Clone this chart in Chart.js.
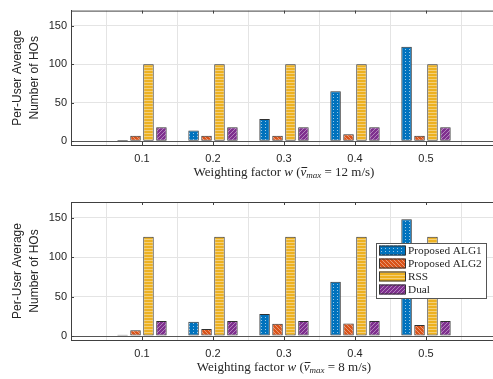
<!DOCTYPE html>
<html>
<head>
<meta charset="utf-8">
<script src="https://cdn.jsdelivr.net/npm/chart.js@4.4.0/dist/chart.umd.min.js"></script>
<style>
html, body { margin: 0; padding: 0; background: #fff; overflow: hidden; width: 493px; height: 379px; }
canvas { position: absolute; left: 0; }
#chartTop { top: 0; }
#chartBottom { top: 190px; }
</style>
</head>
<body>
<canvas id="chartTop" width="505" height="190"></canvas>
<canvas id="chartBottom" width="505" height="189"></canvas>
<script>
// x categories (empty ends = 0 and 0.6, only there to pad the axis)
var xLabels = ['', '0.1', '0.2', '0.3', '0.4', '0.5', ''];
var seriesNames = ['Proposed ALG1', 'Proposed ALG2', 'RSS', 'Dual'];
var yTicks = [0, 50, 100, 150];

// v_max = 12 m/s
var alg1Fast = [1.5, 14, 29, 65, 123];
var alg2Fast = [7, 7, 7, 9, 7];
var rssFast = [100, 100, 100, 100, 100];
var dualFast = [18, 18, 18, 18, 18];

// v_max = 8 m/s
var alg1Slow = [1.5, 18, 28, 69, 148];
var alg2Slow = [7.5, 9, 15.5, 16, 14];
var rssSlow = [126, 126, 126, 126, 126];
var dualSlow = [19, 19, 19, 19, 19];

var colors = ['#0072BD', '#D95319', '#EDB120', '#7E2F8E'];
var textColor = '#262626';

function makePattern(bg, kind) {
    var c = document.createElement('canvas');
    var w = 4, h = 4;
    if (kind == 'dots') { w = 4; h = 3; }
    if (kind == 'hline') { w = 4; h = 3; }
    c.width = w;
    c.height = h;
    var g = c.getContext('2d');
    g.fillStyle = bg;
    g.fillRect(0, 0, w, h);
    if (kind == 'dots') {
        g.fillStyle = 'rgba(255,255,255,0.6)';
        g.fillRect(1, 1, 1, 1);
    } else if (kind == 'back') {
        g.fillStyle = 'rgba(255,255,255,0.4)';
        for (var i = 0; i < 4; i++) g.fillRect(i, i, 1, 1);
    } else if (kind == 'hline') {
        g.fillStyle = 'rgba(255,255,255,0.4)';
        g.fillRect(0, 1, w, 1);
    } else {
        g.fillStyle = 'rgba(255,255,255,0.4)';
        for (var j = 0; j < 4; j++) g.fillRect(3 - j, j, 1, 1);
    }
    return document.createElement('canvas').getContext('2d').createPattern(c, 'repeat');
}

var patterns = [
    makePattern(colors[0], 'dots'),
    makePattern(colors[1], 'back'),
    makePattern(colors[2], 'hline'),
    makePattern(colors[3], 'fwd')
];

function pad(arr) {
    return [null].concat(arr).concat([null]);
}

var titlePlugin = {
    id: 'titles',
    afterDraw: function (chart, args, opts) {
        var ctx = chart.ctx;
        var a = chart.chartArea;
        ctx.save();
        // top border of the axes box
        ctx.strokeStyle = '#404040';
        ctx.lineWidth = 1;
        ctx.beginPath();
        ctx.moveTo(a.left, a.top + 0.5);
        ctx.lineTo(a.right, a.top + 0.5);
        ctx.stroke();
        // inward tick marks
        chart.scales.x.ticks.forEach(function (t, i) {
            var px = Math.round(chart.scales.x.getPixelForTick(i)) + 0.5;
            ctx.beginPath();
            ctx.moveTo(px, a.bottom);
            ctx.lineTo(px, a.bottom - 3);
            ctx.moveTo(px, a.top);
            ctx.lineTo(px, a.top + 3);
            ctx.stroke();
        });
        yTicks.forEach(function (v) {
            var py = Math.round(chart.scales.y.getPixelForValue(v)) + 0.5;
            ctx.beginPath();
            ctx.moveTo(a.left, py);
            ctx.lineTo(a.left + 3, py);
            ctx.stroke();
        });

        // y title, two lines
        ctx.fillStyle = textColor;
        ctx.font = '12px "Liberation Sans", Arial, sans-serif';
        ctx.textAlign = 'center';
        ctx.textBaseline = 'middle';
        var cy = (a.top + a.bottom) / 2;
        ctx.save();
        ctx.translate(18, cy);
        ctx.rotate(-Math.PI / 2);
        ctx.fillText('Per-User Average', 0, 0);
        ctx.restore();
        ctx.save();
        ctx.translate(35, cy);
        ctx.rotate(-Math.PI / 2);
        ctx.fillText('Number of HOs', 0, 0);
        ctx.restore();

        // x title with math parts
        var serif = '"Liberation Serif", "Times New Roman", serif';
        var parts = [
            { t: 'Weighting factor ', f: '13px ' + serif },
            { t: 'w', f: 'italic 13px ' + serif },
            { t: ' (', f: '13px ' + serif },
            { t: 'v', f: 'italic 13px ' + serif, bar: true },
            { t: 'max', f: 'italic 9px ' + serif, sub: true },
            { t: ' = ' + opts.speed + ' m/s)', f: '13px ' + serif }
        ];
        var total = 0;
        parts.forEach(function (p) {
            ctx.font = p.f;
            p.w = ctx.measureText(p.t).width;
            total += p.w;
        });
        var x = (a.left + a.right) / 2 - total / 2;
        var y = opts.titleY;
        ctx.textAlign = 'left';
        parts.forEach(function (p) {
            ctx.font = p.f;
            ctx.fillText(p.t, x, p.sub ? y + 3 : y);
            if (p.bar) {
                ctx.beginPath();
                ctx.strokeStyle = textColor;
                ctx.moveTo(x + 1, y - 5.5);
                ctx.lineTo(x + p.w + 1, y - 5.5);
                ctx.stroke();
            }
            x += p.w;
        });

        // legend box
        if (opts.legend) {
            var L = opts.legend;
            ctx.fillStyle = '#fff';
            ctx.fillRect(L.x, L.y, L.w, L.h);
            ctx.strokeStyle = '#555';
            ctx.strokeRect(L.x + 0.5, L.y + 0.5, L.w, L.h);
            ctx.font = '11.3px ' + serif;
            ctx.textBaseline = 'middle';
            seriesNames.forEach(function (name, i) {
                var ey = L.y + 7.5 + i * 13;
                ctx.fillStyle = patterns[i];
                ctx.fillRect(L.x + 3, ey - 5, 26, 10);
                ctx.strokeStyle = '#333';
                ctx.strokeRect(L.x + 3.5, ey - 4.5, 26, 9);
                ctx.fillStyle = textColor;
                ctx.fillText(name, L.x + 32, ey + 0.5);
            });
        }
        ctx.restore();
    }
};

function makeChart(id, series, opts) {
    var datasets = series.map(function (vals, i) {
        return {
            label: seriesNames[i],
            data: pad(vals),
            backgroundColor: patterns[i],
            borderColor: '#303030',
            borderWidth: 1,
            borderSkipped: false,
            categoryPercentage: 0.73,
            barPercentage: 0.81
        };
    });
    return new Chart(document.getElementById(id), {
        type: 'bar',
        data: { labels: xLabels, datasets: datasets },
        plugins: [titlePlugin],
        options: {
            responsive: false,
            animation: false,
            layout: { padding: { left: 0, right: 8, top: opts.top, bottom: 0 } },
            plugins: {
                legend: { display: false },
                tooltip: { enabled: false },
                titles: opts
            },
            scales: {
                x: {
                    offset: false,
                    grid: { color: '#e4e4e4', drawTicks: false },
                    border: { color: '#404040' },
                    ticks: {
                        color: textColor,
                        padding: 7,
                        maxRotation: 0,
                        autoSkip: false,
                        font: { family: '"Liberation Sans", Arial, sans-serif', size: 11 }
                    },
                    afterFit: function (s) { s.height = opts.xHeight; }
                },
                y: {
                    min: -5,
                    max: 170,
                    afterBuildTicks: function (s) {
                        s.ticks = yTicks.map(function (v) { return { value: v }; });
                    },
                    grid: {
                        drawTicks: false,
                        color: function (c) { return c.tick && c.tick.value === 0 ? '#555' : '#e4e4e4'; }
                    },
                    border: { color: '#404040' },
                    ticks: {
                        color: textColor,
                        padding: 4,
                        font: { family: '"Liberation Sans", Arial, sans-serif', size: 11 }
                    },
                    afterFit: function (s) { s.width = 71; }
                }
            }
        }
    });
}

makeChart('chartTop', [alg1Fast, alg2Fast, rssFast, dualFast],
    { top: 6, xHeight: 45, titleY: 173, speed: '12' });
makeChart('chartBottom', [alg1Slow, alg2Slow, rssSlow, dualSlow],
    { top: 12, xHeight: 39, titleY: 178, speed: '8',
      legend: { x: 376, y: 53, w: 110, h: 55 } });
</script>
</body>
</html>
